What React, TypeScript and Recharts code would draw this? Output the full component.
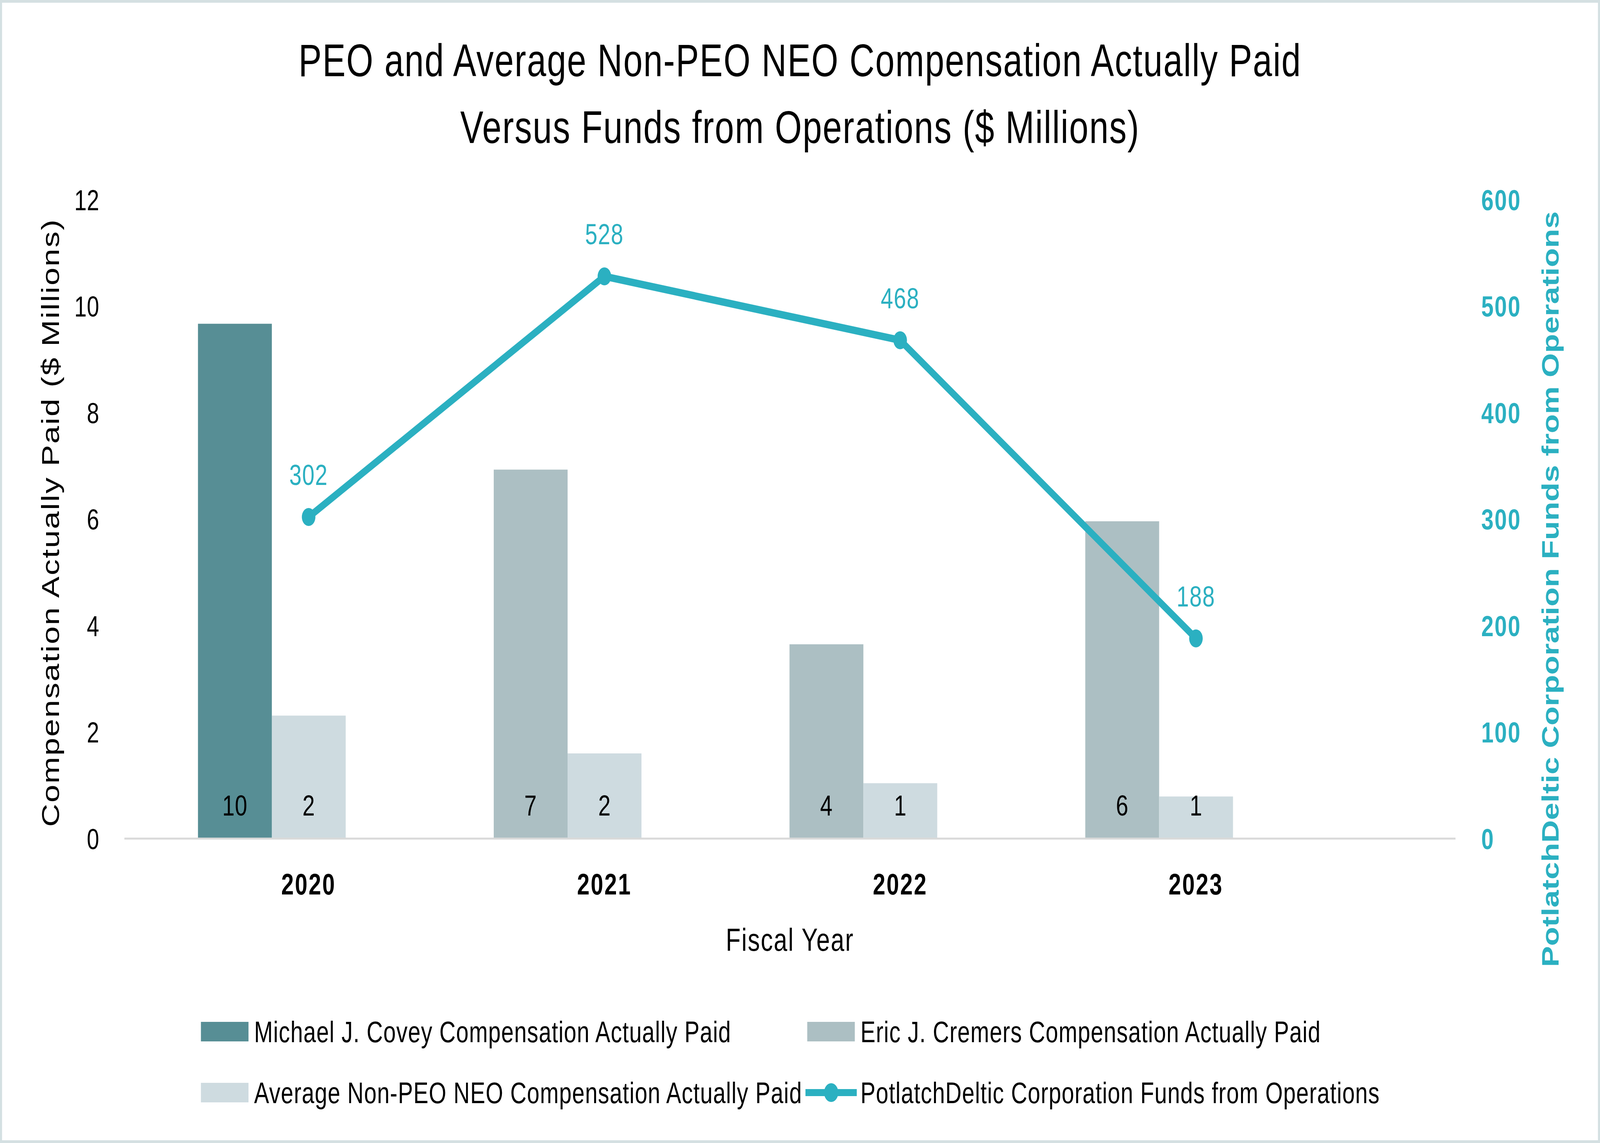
import React from 'react';
import { ComposedChart, Bar, Line, XAxis, YAxis, LabelList, Legend } from 'recharts';

const years = ['2020', '2021', '2022', '2023'];
const coveyCap = [9.67, null, null, null];
const cremersCap = [null, 6.93, 3.65, 5.96];
const avgNeoCap = [2.31, 1.6, 1.04, 0.79];
const fundsFromOps = [302, 528, 468, 188];
const leftTicks = [0, 2, 4, 6, 8, 10, 12];
const rightTicks = [0, 100, 200, 300, 400, 500, 600];

const COVEY_NAME = 'Michael J. Covey Compensation Actually Paid';
const CREMERS_NAME = 'Eric J. Cremers Compensation Actually Paid';
const AVG_NAME = 'Average Non-PEO NEO Compensation Actually Paid';
const FFO_NAME = 'PotlatchDeltic Corporation Funds from Operations';
const legendOrder = [COVEY_NAME, CREMERS_NAME, AVG_NAME, FFO_NAME];

const COVEY = '#578e95';
const CREMERS = '#acbfc3';
const AVG = '#cedbe0';
const TEAL = '#2bb0c1';
const FONT = '"Liberation Sans", Arial, sans-serif';

const W = 5415;
const H = 2925;

const data = years.map((year, i) => ({
  year,
  covey: coveyCap[i],
  cremers: cremersCap[i],
  avg: avgNeoCap[i],
  ffo: fundsFromOps[i],
}));

// value printed near the base of each bar, rounded like the source
const baseLabel = (props: any) => {
  const vb = props.viewBox ?? props;
  const { x, y, width, height } = vb;
  const raw = props.value;
  const v = Array.isArray(raw) ? raw[1] - raw[0] : raw;
  if (v == null || !v) return null;
  return (
    <text
      x={x + width / 2}
      y={y + height - 59}
      textAnchor="middle"
      fill="#000"
      fontSize={75}
      letterSpacing={1}
    >
      {Math.round(v)}
    </text>
  );
};

const LegendContent = ({ payload }: any) => {
  const items = legendOrder
    .map((name) => (payload || []).find((p: any) => p.value === name))
    .filter(Boolean);
  return (
    <div
      style={{
        display: 'grid',
        gridTemplateColumns: '2052px 2052px',
        paddingLeft: 674,
        fontFamily: FONT,
        fontSize: 76,
        letterSpacing: 1.6,
        color: '#000',
      }}
    >
      {items.map((p: any) => (
        <div key={p.value} style={{ display: 'flex', alignItems: 'center', height: 156 }}>
          <svg width={174} height={60} style={{ marginRight: 12, flex: 'none' }}>
            {p.type === 'line' ? (
              <g>
                <line x1={0} y1={30} x2={174} y2={30} stroke={p.color} strokeWidth={18} />
                <circle cx={87} cy={30} r={24} fill={p.color} />
              </g>
            ) : (
              <rect x={6} y={5} width={161} height={50} fill={p.color} />
            )}
          </svg>
          <span style={{ whiteSpace: 'nowrap' }}>{p.value}</span>
        </div>
      ))}
    </div>
  );
};

export default function App() {
  // the browser may cap the window below the reference size; stretch the
  // drawing so it fills whatever window we get
  const sx = window.innerWidth / W || 1;
  const sy = window.innerHeight / H || 1;
  return (
    <div
      style={{
        position: 'absolute',
        left: 0,
        top: 0,
        width: W * sx,
        height: H * sy,
        overflow: 'hidden',
      }}
    >
      <div
        style={{
          position: 'relative',
          width: W,
          height: H,
          background: '#fff',
          fontFamily: FONT,
          transform: `scale(${sx}, ${sy})`,
          transformOrigin: '0 0',
        }}
      >
        <div
          style={{
            position: 'absolute',
            top: 69,
            left: 0,
            width: W,
            textAlign: 'center',
            fontSize: 117,
            lineHeight: '171px',
            letterSpacing: 2.8,
            color: '#000',
          }}
        >
          <div>PEO and Average Non-PEO NEO Compensation Actually Paid</div>
          <div>Versus Funds from Operations ($ Millions)</div>
        </div>

        <ComposedChart
          width={W}
          height={H}
          data={data}
          margin={{ top: 511, right: 0, bottom: 379, left: 0 }}
          barSize={250}
          barGap={0}
          style={{ position: 'absolute', left: 0, top: 0 }}
        >
          <XAxis
            dataKey="year"
            height={400}
            padding={{ left: 123, right: 378 }}
            axisLine={{ stroke: '#d9d9d9', strokeWidth: 5 }}
            tickLine={false}
            tickSize={0}
            tickMargin={89}
            tick={{ fill: '#000', fontSize: 76, fontWeight: 700, letterSpacing: 4 }}
            label={{
              content: (props: any) => {
                const { x, y, width } = props.viewBox;
                return (
                  <text x={x + width / 2} y={y + 287} textAnchor="middle" fontSize={82} fill="#000" letterSpacing={3}>
                    Fiscal Year
                  </text>
                );
              },
            }}
          />
          <YAxis
            yAxisId="left"
            width={421}
            domain={[0, 12]}
            ticks={leftTicks}
            interval={0}
            axisLine={false}
            tickLine={false}
            tickSize={0}
            tickMargin={85}
            tick={{ fill: '#000', fontSize: 75, letterSpacing: 0.5 }}
            label={{
              content: (props: any) => {
                const { x, y, height } = props.viewBox;
                const cx = x + 171;
                const cy = y + height / 2 + 9;
                return (
                  <text
                    x={cx}
                    y={cy}
                    transform={`rotate(-90 ${cx} ${cy})`}
                    textAnchor="middle"
                    dominantBaseline="central"
                    fontSize={82}
                    fill="#000"
                    letterSpacing={3}
                  >
                    Compensation Actually Paid ($ Millions)
                  </text>
                );
              },
            }}
          />
          <YAxis
            yAxisId="right"
            orientation="right"
            width={489}
            domain={[0, 600]}
            ticks={rightTicks}
            interval={0}
            axisLine={false}
            tickLine={false}
            tickSize={0}
            tickMargin={87}
            tick={{ fill: TEAL, fontSize: 75, fontWeight: 700, letterSpacing: 3.5 }}
            label={{
              content: (props: any) => {
                const { x, y, height } = props.viewBox;
                const cx = x + 321;
                const cy = y + height / 2 + 179;
                return (
                  <text
                    x={cx}
                    y={cy}
                    transform={`rotate(-90 ${cx} ${cy})`}
                    textAnchor="middle"
                    dominantBaseline="central"
                    fontSize={80}
                    fontWeight={700}
                    fill={TEAL}
                    letterSpacing={0.3}
                  >
                    {FFO_NAME}
                  </text>
                );
              },
            }}
          />
          <Bar yAxisId="left" dataKey="covey" name={COVEY_NAME} stackId="peo" fill={COVEY} isAnimationActive={false}>
            <LabelList content={baseLabel} />
          </Bar>
          <Bar yAxisId="left" dataKey="cremers" name={CREMERS_NAME} stackId="peo" fill={CREMERS} isAnimationActive={false}>
            <LabelList content={baseLabel} />
          </Bar>
          <Bar yAxisId="left" dataKey="avg" name={AVG_NAME} fill={AVG} isAnimationActive={false}>
            <LabelList content={baseLabel} />
          </Bar>
          {/* empty third slot so the group sits like the source */}
          <Bar yAxisId="left" dataKey="spacer" legendType="none" fill="none" isAnimationActive={false} />
          <Line
            yAxisId="right"
            dataKey="ffo"
            name={FFO_NAME}
            type="linear"
            stroke={TEAL}
            strokeWidth={19}
            dot={{ r: 23, fill: TEAL, stroke: TEAL, strokeWidth: 0 }}
            activeDot={false}
            isAnimationActive={false}
          >
            <LabelList dataKey="ffo" position="top" offset={82} fill={TEAL} fontSize={75} letterSpacing={2} />
          </Line>
          <Legend
            layout="horizontal"
            verticalAlign="middle"
            align="center"
            content={<LegendContent />}
            wrapperStyle={{ left: 0, top: 2562, width: W }}
          />
        </ComposedChart>

        <div
          style={{
            position: 'absolute',
            left: 0,
            top: 0,
            width: W,
            height: H,
            boxSizing: 'border-box',
            border: '7px solid #d4e0e2',
            pointerEvents: 'none',
          }}
        />
      </div>
    </div>
  );
}
